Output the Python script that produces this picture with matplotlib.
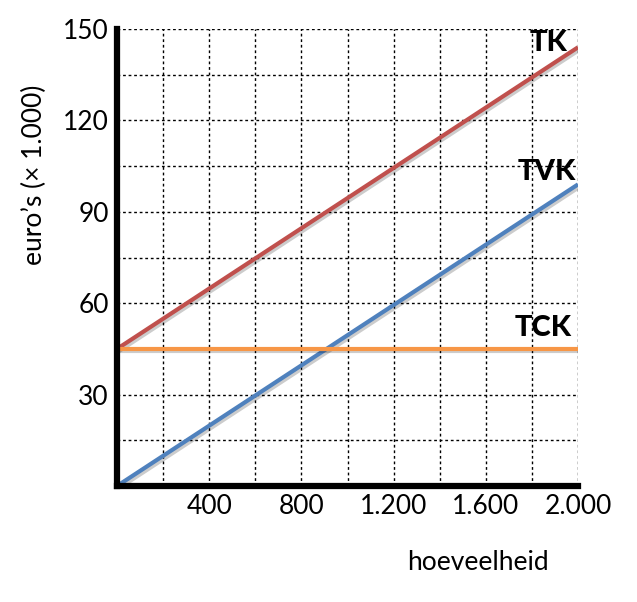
from matplotlib import pyplot as plt
from matplotlib import patheffects as pe
from matplotlib.ticker import MultipleLocator, FuncFormatter

plt.rcParams['font.family'] = ['Lato', 'DejaVu Sans']

# data
hoeveelheid = [0, 2000]
tk = [45, 144]
tvk = [0, 99]
tck = [45, 45]

RED = '#C0504D'
BLUE = '#4F81BD'
ORANGE = '#F79646'


def nl_fmt(v, pos, step):
    if v <= 0 or round(v) % step != 0:
        return ''
    return f'{int(round(v)):,}'.replace(',', '.')


fig = plt.figure(figsize=(6.37, 6.02), dpi=100)
ax = fig.add_axes([0.1837, 0.1927, 0.7237, 0.7591])

shadow = [pe.SimpleLineShadow(offset=(1.5, -1.5), alpha=0.2), pe.Normal()]
ax.plot(hoeveelheid, tk, color=RED, lw=3, solid_capstyle='butt', path_effects=shadow, zorder=3)
ax.plot(hoeveelheid, tvk, color=BLUE, lw=3, solid_capstyle='butt', path_effects=shadow, zorder=3)
ax.plot(hoeveelheid, tck, color=ORANGE, lw=3, solid_capstyle='butt', path_effects=shadow, zorder=3)

lab = dict(fontsize=21, fontweight='black', ha='center', va='center', zorder=5)
ax.text(1870, 145.5, 'TK', **lab)
ax.text(1865, 103, 'TVK', **lab)
ax.text(1848, 52, 'TCK', **lab)

ax.set_xlim(0, 2000)
ax.set_ylim(0, 150)
ax.xaxis.set_major_locator(MultipleLocator(200))
ax.yaxis.set_major_locator(MultipleLocator(15))
ax.xaxis.set_major_formatter(FuncFormatter(lambda v, p: nl_fmt(v, p, 400)))
ax.yaxis.set_major_formatter(FuncFormatter(lambda v, p: nl_fmt(v, p, 30)))
ax.tick_params(length=0, labelsize=19, pad=6)
ax.grid(True, color='black', lw=1, linestyle=(0, (2, 2)))
ax.set_axisbelow(True)

for s in ['top', 'right']:
    ax.spines[s].set_visible(False)
for s in ['left', 'bottom']:
    ax.spines[s].set_linewidth(4.5)
    ax.spines[s].set_capstyle('projecting')
    ax.spines[s].set_zorder(4)

ax.set_xlabel('hoeveelheid', fontsize=19, va='center')
ax.set_ylabel('euro’s (× 1.000)', fontsize=19, va='center')
ax.xaxis.set_label_coords(0.783, -0.168)
ax.yaxis.set_label_coords(-0.178, 0.68)

plt.savefig('out.png', dpi=100)
plt.close()
